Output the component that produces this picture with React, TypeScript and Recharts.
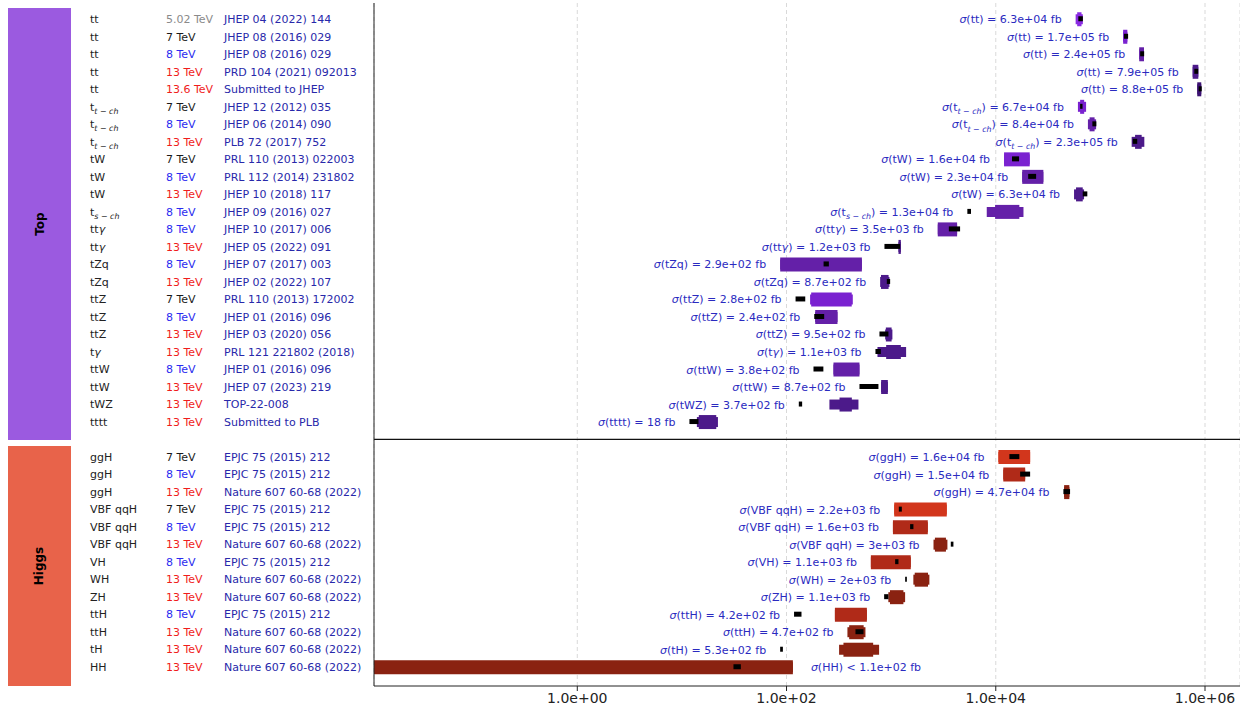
import React from 'react';
import { ComposedChart, Bar, Cell, XAxis, YAxis, CartesianGrid, ReferenceLine, LabelList } from 'recharts';

// one entry per row, row 24 is the empty spacer between Top and Higgs
const processes = [
  'tt', 'tt', 'tt', 'tt', 'tt', 't_{t − ch}', 't_{t − ch}', 't_{t − ch}', 'tW', 'tW', 'tW', 't_{s − ch}',
  'ttγ', 'ttγ', 'tZq', 'tZq', 'ttZ', 'ttZ', 'ttZ', 'tγ', 'ttW', 'ttW', 'tWZ', 'tttt', '',
  'ggH', 'ggH', 'ggH', 'VBF qqH', 'VBF qqH', 'VBF qqH', 'VH', 'WH', 'ZH', 'ttH', 'ttH', 'tH', 'HH',
];
const groups = [
  'Top', 'Top', 'Top', 'Top', 'Top', 'Top', 'Top', 'Top', 'Top', 'Top', 'Top', 'Top',
  'Top', 'Top', 'Top', 'Top', 'Top', 'Top', 'Top', 'Top', 'Top', 'Top', 'Top', 'Top', '',
  'Higgs', 'Higgs', 'Higgs', 'Higgs', 'Higgs', 'Higgs', 'Higgs', 'Higgs', 'Higgs', 'Higgs', 'Higgs', 'Higgs', 'Higgs',
];
const energies = [
  '5.02', '7', '8', '13', '13.6', '7', '8', '13', '7', '8', '13', '8',
  '8', '13', '8', '13', '7', '8', '13', '13', '8', '13', '13', '13', '',
  '7', '8', '13', '7', '8', '13', '8', '13', '13', '8', '13', '13', '13',
];
const references = [
  'JHEP 04 (2022) 144', 'JHEP 08 (2016) 029', 'JHEP 08 (2016) 029', 'PRD 104 (2021) 092013', 'Submitted to JHEP',
  'JHEP 12 (2012) 035', 'JHEP 06 (2014) 090', 'PLB 72 (2017) 752', 'PRL 110 (2013) 022003', 'PRL 112 (2014) 231802',
  'JHEP 10 (2018) 117', 'JHEP 09 (2016) 027', 'JHEP 10 (2017) 006', 'JHEP 05 (2022) 091', 'JHEP 07 (2017) 003',
  'JHEP 02 (2022) 107', 'PRL 110 (2013) 172002', 'JHEP 01 (2016) 096', 'JHEP 03 (2020) 056', 'PRL 121 221802 (2018)',
  'JHEP 01 (2016) 096', 'JHEP 07 (2023) 219', 'TOP-22-008', 'Submitted to PLB', '',
  'EPJC 75 (2015) 212', 'EPJC 75 (2015) 212', 'Nature 607 60-68 (2022)', 'EPJC 75 (2015) 212', 'EPJC 75 (2015) 212',
  'Nature 607 60-68 (2022)', 'EPJC 75 (2015) 212', 'Nature 607 60-68 (2022)', 'Nature 607 60-68 (2022)',
  'EPJC 75 (2015) 212', 'Nature 607 60-68 (2022)', 'Nature 607 60-68 (2022)', 'Nature 607 60-68 (2022)',
];

// measured cross sections in fb (HH is an upper limit)
const measured = [
  6.3e4, 1.7e5, 2.4e5, 7.9e5, 8.8e5, 6.7e4, 8.4e4, 2.3e5, 1.6e4, 2.3e4, 6.3e4, 1.3e4,
  3.5e3, 1.2e3, 290, 870, 280, 240, 950, 1100, 380, 870, 370, 18, null,
  1.6e4, 1.5e4, 4.7e4, 2.2e3, 1.6e3, 3000, 1100, 2000, 1100, 420, 470, 530, 110,
];
const upperLimit = [
  false, false, false, false, false, false, false, false, false, false, false, false,
  false, false, false, false, false, false, false, false, false, false, false, false, false,
  false, false, false, false, false, false, false, false, false, false, false, false, true,
];

// total uncertainty band
const totalLo = [
  58000, 165000, 235000, 762000, 843000, 61000, 76000, 199000, 12000, 17900, 56000, 8200,
  2790, 1175, 87, 785, 168, 188, 877, 740, 281, 802, 257, 13.9, null,
  10600, 11800, 45000, 1070, 1040, 2540, 640, 1630, 940, 290, 382, 318, 0.001,
];
const totalHi = [
  68000, 181000, 261000, 863000, 921000, 73000, 91000, 263000, 21100, 28500, 69800, 18400,
  4270, 1238, 525, 963, 430, 307, 1028, 1390, 498, 930, 487, 22.1, null,
  21300, 19100, 50500, 3400, 2240, 3450, 1540, 2320, 1360, 586, 568, 767, 115,
];

// statistical uncertainty band
const statLo = [
  60000, 165000, 235000, 762000, 843000, 64000, 78800, 214500, 12000, 17900, 58500, 9850,
  2790, 1175, 87, 800, 172, 188, 890, 896, 281, 802, 321, 14.5, null,
  10600, 11800, 45000, 1070, 1040, 2620, 640, 1680, 975, 290, 397, 350, 0.001,
];
const statHi = [
  66000, 181000, 261000, 863000, 921000, 70000, 88000, 248000, 21100, 28500, 67800, 16800,
  4270, 1238, 525, 945, 420, 307, 1010, 1238, 498, 930, 421, 21.3, null,
  21300, 19100, 50500, 3400, 2240, 3340, 1540, 2250, 1310, 586, 546, 673, 115,
];

// theory prediction
const theoryLo = [
  61500, 168000, 240000, 790000, 870000, 64000, 83800, 204000, 14300, 20400, 67800, 5350,
  3560, 863, 226, 909, 122, 184, 773, 708, 181, 498, 131, 11.8, null,
  13500, 17100, 44300, 1184, 1518, 3716, 1092, 1361, 857, 118, 456, 86.9, 31.1,
];
const theoryHi = [
  68000, 184000, 262000, 860000, 930000, 67500, 91500, 225000, 16700, 24300, 75000, 5800,
  4560, 1219, 254, 978, 151, 229, 942, 797, 225, 756, 141, 14.4, null,
  16800, 21300, 51300, 1265, 1633, 3938, 1175, 1413, 942, 139, 544, 92.3, 36.6,
];

const xTicks = [1, 1e2, 1e4, 1e6];

const rowIds = processes.map((_, i) => `r${i}`);

const barColors: Record<string, Record<string, string>> = {
  Top: { '5.02': '#8a2be2', '7': '#7a22d0', '8': '#6420a8', '13': '#4c1a8a', '13.6': '#3c1272' },
  Higgs: { '7': '#d2361c', '8': '#b02a18', '13': '#8a2211' },
};
const energyColors: Record<string, string> = {
  '5.02': '#8a8a8a', '7': '#1a1a1a', '8': '#2b2bf0', '13': '#f01c1c', '13.6': '#f01c1c',
};
const labelColor = '#2a2ac0';
const refColor = '#2828aa';

const rows = rowIds.map((id, i) => {
  if (totalLo[i] == null) return { id };
  const lo = Math.min(totalLo[i] as number, theoryLo[i] as number);
  const hi = Math.max(totalHi[i] as number, theoryHi[i] as number);
  return {
    id,
    total: [totalLo[i], totalHi[i]],
    stat: [statLo[i], statHi[i]],
    theory: [theoryLo[i], theoryHi[i]],
    span: [lo, hi],
  };
});

const fmt2g = (v: number) => {
  const e = Math.floor(Math.log10(v));
  if (e < 2) return String(Number(v.toPrecision(2)));
  let m = (v / Math.pow(10, e)).toFixed(1);
  if (m.endsWith('.0')) m = m.slice(0, -2);
  return `${m}e+${String(e).padStart(2, '0')}`;
};

const fmtTick = (v: number) => {
  const e = Math.round(Math.log10(v));
  const m = (v / Math.pow(10, e)).toFixed(1);
  return `${m}e${e < 0 ? '-' : '+'}${String(Math.abs(e)).padStart(2, '0')}`;
};

// split "t_{t − ch}" / "ttγ" into tspans with subscript and italic gamma
const procSpans = (s: string, fs: number, keyBase: string) => {
  const parts = s.split(/(_\{[^}]*\}|γ)/).filter(Boolean);
  const out: React.ReactNode[] = [];
  let shift = 0;
  parts.forEach((p, k) => {
    const key = `${keyBase}${k}`;
    if (p.startsWith('_{')) {
      out.push(
        <tspan key={key} dy={fs * 0.3 - shift || undefined} fontSize={fs * 0.72} fontStyle="italic">
          {p.slice(2, -1)}
        </tspan>
      );
      shift = fs * 0.3;
    } else {
      out.push(
        <tspan key={key} dy={shift ? -shift : undefined} fontStyle={p === 'γ' ? 'italic' : 'normal'}>
          {p}
        </tspan>
      );
      shift = 0;
    }
  });
  return { spans: out, shift };
};

const RowTick = (props: any) => {
  const { y, payload } = props;
  const i = rowIds.indexOf(payload.value);
  if (i < 0 || !processes[i]) return <g />;
  const proc = procSpans(processes[i], 11, 'p');
  return (
    <g>
      <text x={90} y={y + 4} fontSize={11} fill="#222">{proc.spans}</text>
      <text x={166} y={y + 4} fontSize={11} fill={energyColors[energies[i]]}>
        {energies[i]} TeV
      </text>
      <text x={224} y={y + 4} fontSize={11} fill={refColor}>{references[i]}</text>
    </g>
  );
};

const SigmaLabel = (props: any) => {
  const vb = props.viewBox || props;
  const i = rowIds.indexOf(props.value);
  if (i < 0 || measured[i] == null) return null;
  const cy = vb.y + vb.height / 2;
  const proc = procSpans(processes[i], 11, 's');
  const rel = upperLimit[i] ? '<' : '=';
  const right = upperLimit[i];
  return (
    <text
      x={right ? vb.x + vb.width + 18 : vb.x - 14}
      y={cy + 4}
      fontSize={11}
      fill={labelColor}
      textAnchor={right ? 'start' : 'end'}
    >
      <tspan fontStyle="italic">σ</tspan>
      <tspan>(</tspan>
      {proc.spans}
      <tspan dy={proc.shift ? -proc.shift : undefined}>{`) ${rel} ${fmt2g(measured[i] as number)} fb`}</tspan>
    </text>
  );
};

const yPad = { top: 7.25, bottom: 10.25 };

const groupBox = (label: string, top: number, height: number, color: string) => (
  <div
    style={{
      position: 'absolute', left: 8, top, width: 63, height, background: color,
      display: 'flex', alignItems: 'center', justifyContent: 'center',
    }}
  >
    <span style={{ transform: 'rotate(-90deg)', fontWeight: 'bold', fontSize: 12, color: '#000', whiteSpace: 'nowrap' }}>
      {label}
    </span>
  </div>
);

export default function App() {
  const colorOf = (i: number) => (groups[i] ? barColors[groups[i]][energies[i]] : 'none');
  return (
    <div style={{ position: 'absolute', left: 0, top: 0, width: 1240, height: 707, fontFamily: 'DejaVu Sans', background: '#fff' }}>
      <ComposedChart
        width={1240}
        height={707}
        data={rows}
        layout="vertical"
        margin={{ top: 3, right: 0, bottom: 0, left: 0 }}
      >
        <CartesianGrid horizontal={false} strokeDasharray="4 3" stroke="#d9d9d9" />
        <XAxis
          type="number"
          scale="log"
          domain={[0.0114, 2.16e6]}
          allowDataOverflow
          ticks={xTicks}
          tickFormatter={fmtTick}
          height={21}
          tickSize={5}
          tickMargin={2}
          tick={{ fontSize: 14, fill: '#222' }}
          stroke="#222"
        />
        <XAxis
          xAxisId="top"
          orientation="top"
          type="number"
          scale="log"
          domain={[0.0114, 2.16e6]}
          allowDataOverflow
          height={0}
          tick={false}
          tickLine={false}
          stroke="#222"
        />
        <YAxis
          type="category"
          dataKey="id"
          width={374}
          padding={yPad}
          interval={0}
          tickLine={false}
          stroke="#222"
          tick={<RowTick />}
        />
        <YAxis yAxisId="short" type="category" dataKey="id" padding={yPad} hide />
        <YAxis yAxisId="th" type="category" dataKey="id" padding={yPad} hide />
        <YAxis yAxisId="lab" type="category" dataKey="id" padding={yPad} hide />
        <ReferenceLine y="r24" stroke="#111" strokeWidth={1.3} />
        <Bar dataKey="span" yAxisId="lab" barSize={14} fill="none" isAnimationActive={false}>
          <LabelList dataKey="id" content={<SigmaLabel />} />
        </Bar>
        <Bar dataKey="total" yAxisId="short" barSize={10} isAnimationActive={false}>
          {rows.map((r, i) => (
            <Cell key={r.id} fill={colorOf(i)} />
          ))}
        </Bar>
        <Bar dataKey="stat" barSize={14} isAnimationActive={false}>
          {rows.map((r, i) => (
            <Cell key={r.id} fill={colorOf(i)} />
          ))}
        </Bar>
        <Bar dataKey="theory" yAxisId="th" barSize={5} fill="#000" isAnimationActive={false} />
      </ComposedChart>
      {groupBox('Top', 8, 432, '#9b5ae0')}
      {groupBox('Higgs', 446, 240, '#e8634a')}
    </div>
  );
}
